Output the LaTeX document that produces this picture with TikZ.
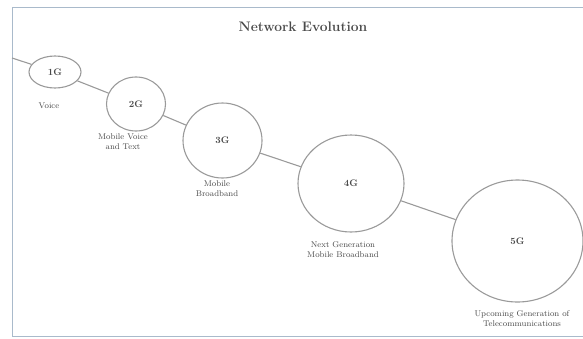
\documentclass[tikz,border=0pt]{standalone}
\usetikzlibrary{shapes.geometric}
\definecolor{framec}{HTML}{A9BACB}
\definecolor{circc}{HTML}{9A9A9A}
\definecolor{txtc}{HTML}{4A4A4A}
\begin{document}
\begin{tikzpicture}[x=1pt,y=-1pt,
  gen/.style={ellipse, draw=circc, line width=1.1pt, inner sep=0pt, text=txtc, font=\fontsize{9.5}{11}\selectfont\bfseries},
  gencaption/.style={align=center, text=txtc, inner sep=0pt, font=\fontsize{8.3}{10}\selectfont},
  link/.style={draw=circc, line width=1.1pt}]
\useasboundingbox (0,0) rectangle (583,338);
\draw[framec, line width=1pt] (583,7) -- (12,7) -- (12,336) -- (583,336);
\node[text=txtc, font=\fontsize{13.8}{16}\selectfont\bfseries] (title) at (303,27) {Network Evolution};
\coordinate (start) at (12,58);
\node[gen, minimum width=52pt, minimum height=32pt] (g1) at (55,72) {1G};
\node[gen, minimum width=59pt, minimum height=54pt] (g2) at (136,104) {2G};
\node[gen, minimum width=79pt, minimum height=75pt] (g3) at (222.5,140.5) {3G};
\node[gen, minimum width=106pt, minimum height=97pt] (g4) at (351,183.5) {4G};
\node[gen, minimum width=131pt, minimum height=122pt] (g5) at (517.5,241) {5G};
\draw[link] (start) -- (g1);
\draw[link] (g1) -- (g2);
\draw[link] (g2) -- (g3);
\draw[link] (g3) -- (g4);
\draw[link] (g4) -- (g5);
\node[gencaption] (l1) at (49,106) {Voice};
\node[gencaption] (l2) at (123,142) {Mobile Voice\\and Text};
\node[gencaption] (l3) at (217,188.5) {Mobile\\Broadband};
\node[gencaption] (l4) at (343,249.5) {Next Generation\\Mobile Broadband};
\node[gencaption] (l5) at (522,319) {Upcoming Generation of\\Telecommunications};
\end{tikzpicture}
\end{document}
